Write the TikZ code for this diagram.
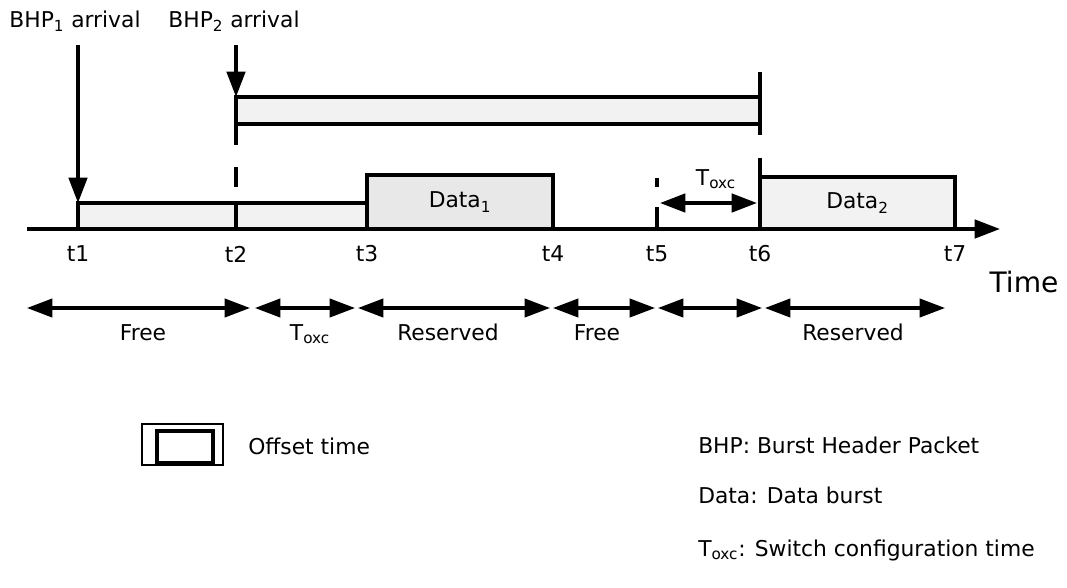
\documentclass[tikz,border=0pt]{standalone}
\usepackage{fontspec}
\setmainfont{DejaVu Sans}
\usepackage{tikz}
\usetikzlibrary{arrows.meta, fit, calc}

\begin{document}
\begin{tikzpicture}[x=0.025cm, y=-0.025cm,
  font=\fontsize{15.5}{18}\selectfont,
  thk/.style={line width=2.6pt},
  headarrow/.style={-{Triangle[length=18pt,width=13pt]}},
  dblarrow/.style={{Triangle[length=18pt,width=13pt]}-{Triangle[length=18pt,width=13pt]}},
  slot/.style={draw, line width=2.6pt, fill=gray!10, inner sep=0pt, outer sep=0pt}]
\useasboundingbox (0,0) rectangle (1067,587);

% time axis
\coordinate (o) at (27,229);
\coordinate (end) at (1000,229);
\foreach \n/\x in {1/78,2/236,3/367,4/553,5/657,6/760,7/955}
  \coordinate (t\n) at (\x,229);

% offset time and data bursts
\node[slot, fit={(78,203) (367,229)}] (off1) {};
\node[slot, fit={(236,97) (760,124)}] (off2) {};
\node[slot, fill=gray!18, fit={(367,175) (553,229)}] (data1) {};
\node[slot, fit={(760,177) (955,229)}] (data2) {};
\node (d1lab) at (data1) {Data\textsubscript{1}};
\node (d2lab) at (data2) {Data\textsubscript{2}};

\draw[thk, headarrow] (o) -- (end);
\foreach \n in {1,...,7}
  \node (lt\n) at ($(t\n)+(0,25)$) {t\n};
\node (time) at (1024,282) {\fontsize{20}{24}\selectfont Time};

% dashed marks
\draw[thk, dash pattern=on 34pt off 16pt on 14pt off 13pt] (off2.north west) -- (t2);
\coordinate (m6) at (760,72);
\draw[thk, dash pattern=on 45pt off 16pt on 60pt] (m6) -- (t6);
\coordinate (m5) at (657,178);
\draw[thk, dash pattern=on 6.5pt off 14pt on 30pt] (m5) -- (t5);

% switch configuration before t6
\coordinate (ta) at (660,203);
\coordinate (tb) at (757,203);
\draw[thk, dblarrow] (ta) -- (tb);
\node[anchor=base] (toxc) at (716,185) {T\textsubscript{oxc}};

% BHP arrivals
\node[anchor=base] (bhp1) at (75,27) {BHP\textsubscript{1} arrival};
\coordinate (a1) at (78,45);
\draw[thk, headarrow] (a1) -- (off1.north west);
\node[anchor=base] (bhp2) at (234,27) {BHP\textsubscript{2} arrival};
\coordinate (a2) at (236,45);
\draw[thk, headarrow] (a2) -- (off2.north west);

% channel states
\foreach \i/\a/\b/\lab/\m in {1/27/250/Free/143, 2/255/355/T\textsubscript{oxc}/310,
    3/358/550/Reserved/448, 4/553/655/Free/597, 5/658/762//710, 6/765/945/Reserved/853} {
  \coordinate (s\i a) at (\a,308);
  \coordinate (s\i b) at (\b,308);
  \draw[line width=2.2pt, dblarrow] (s\i a) -- (s\i b);
  \node[anchor=base] (span\i) at (\m,340) {\lab};
}

% legend
\node[draw, line width=1.4pt, inner sep=0pt, fit={(142,424) (223,465)}] (leg) {};
\node[draw, line width=2.6pt, inner sep=0pt, fit={(157,431) (213,463)}] (legin) {};
\node[anchor=west, inner sep=0pt] (legtxt) at (248,446) {Offset time};
\node[anchor=base west, inner sep=0pt] (k1) at (698,453) {BHP: Burst Header Packet};
\node[anchor=base west, inner sep=0pt] (k2) at (698,503) {Data: Data burst};
\node[anchor=base west, inner sep=0pt] (k3) at (698,556) {T\textsubscript{oxc}: Switch configuration time};
\end{tikzpicture}
\end{document}
